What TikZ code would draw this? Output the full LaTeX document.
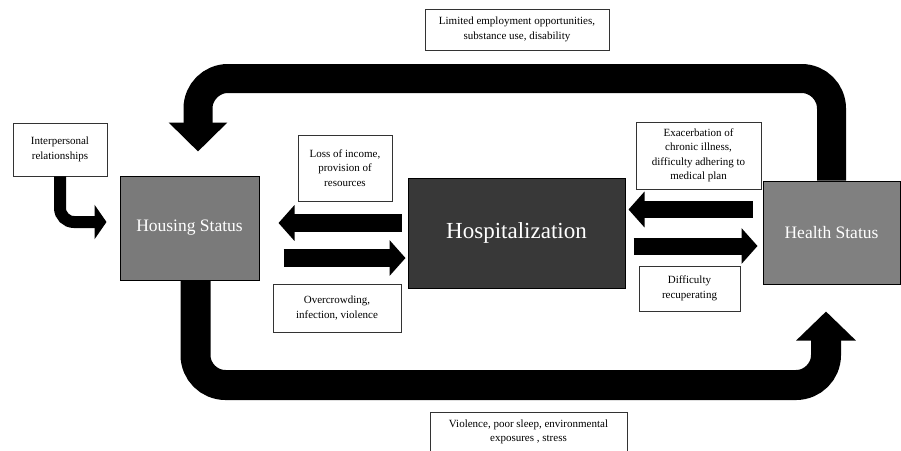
\documentclass[tikz,border=0pt]{standalone}
\usepackage{fontspec}
\setmainfont{Liberation Serif}
\usetikzlibrary{arrows.meta}
\begin{document}
\begin{tikzpicture}[x=1pt,y=-1pt]
        \tikzstyle{note}=[draw=black!80,line width=0.8pt,fill=white,align=center,inner sep=2pt,font=\fontsize{11}{14.5}\selectfont]
        \tikzstyle{state}=[draw=black,line width=1pt,text=white,align=center,inner sep=0pt]
        \tikzstyle{blockarrow}=[draw=black,line width=18pt,-{Triangle[width=35pt,length=16pt]}]
        \tikzstyle{looparrow}=[draw=black,line width=29pt]
        \useasboundingbox (0,0) rectangle (901,450);
        \begin{scope}
           \node [state,fill=black!52,minimum width=139pt,minimum height=104pt,font=\fontsize{17.5}{20}\selectfont] (house) at (189.5,228) {Housing Status};
           \node [state,fill=black!78,minimum width=217pt,minimum height=110pt,font=\fontsize{23}{26}\selectfont] (hosp) at (516.5,233) {Hospitalization};
           \node [state,fill=black!50,minimum width=137pt,minimum height=103pt,font=\fontsize{17.5}{20}\selectfont] (health) at (831.5,232.5) {Health Status};
           \node [note,minimum width=184pt,minimum height=41pt] (limited) at (517,29.5) {Limited employment opportunities,\\substance use, disability};
           \node [note,minimum width=94pt,minimum height=53pt] (inter) at (60,149.5) {Interpersonal\\relationships};
           \node [note,minimum width=94pt,minimum height=66pt] (loss) at (345,168) {Loss of income,\\provision of\\resources};
           \node [note,minimum width=125pt,minimum height=67pt] (exac) at (698.5,155.5) {Exacerbation of\\chronic illness,\\difficulty adhering to\\medical plan};
           \node [note,minimum width=101pt,minimum height=45pt] (diff) at (689.5,288.5) {Difficulty\\recuperating};
           \node [note,minimum width=128pt,minimum height=48pt] (over) at (337,308) {Overcrowding,\\infection, violence};
           \node [note,minimum width=197pt,minimum height=40pt] (viol) at (528.5,432) {Violence, poor sleep, environmental\\exposures , stress};
           \coordinate (toprow) at (0,78.5);
           \coordinate (botrow) at (0,385);
           \coordinate (interrow) at (0,222);
           \coordinate (ya) at (0,223);
           \coordinate (yb) at (0,258);
           \coordinate (yc) at (0,209.5);
           \coordinate (yd) at (0,246);
           \path[looparrow,-{Triangle[width=57pt,length=29pt]},rounded corners=30pt,shorten >=24pt] (health.north) -- (health.north |- toprow) -| ([xshift=8.5pt]house.north);
           \path[looparrow,line width=30pt,-{Triangle[width=58pt,length=29pt]},rounded corners=30pt,shorten >=27pt] ([xshift=6pt]house.south) -- ([xshift=6pt]house.south |- botrow) -| ([xshift=-5.5pt]health.south);
           \path[looparrow,line width=12pt,-{Triangle[width=34pt,length=12pt]},rounded corners=14pt,shorten >=13pt] (inter.south) |- (house.west |- interrow);
           \path[blockarrow,shorten <=6pt,shorten >=19pt] (hosp.west |- ya) -- (house.east |- ya);
           \path[blockarrow,shorten <=24pt,shorten >=2pt] (house.east |- yb) -- (hosp.west |- yb);
           \path[blockarrow,line width=17pt,shorten <=10pt,shorten >=3pt] (health.west |- yc) -- (hosp.east |- yc);
           \path[blockarrow,line width=17pt,shorten <=8pt,shorten >=5pt] (hosp.east |- yd) -- (health.west |- yd);
        \end{scope}
      \end{tikzpicture}
\end{document}
